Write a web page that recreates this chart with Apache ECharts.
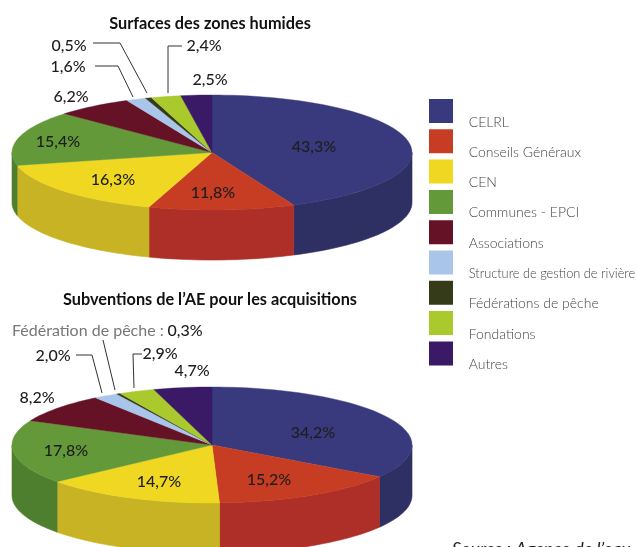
<!DOCTYPE html>
<html><head><meta charset="utf-8">
<style>html,body{margin:0;padding:0;background:#fff;overflow:hidden}#c{width:637px;height:547px}</style>
<script src="https://cdn.jsdelivr.net/npm/echarts@6/dist/echarts.min.js"></script>
</head><body><div id="c"></div>
<script>
const categories = ["CELRL","Conseils Généraux","CEN","Communes - EPCI","Associations","Structure de gestion de rivière","Fédérations de pêche","Fondations","Autres"];
const surfaces = [43.3,11.8,16.3,15.4,6.2,1.6,0.5,2.4,2.5];
const subventions = [34.2,15.2,14.7,17.8,8.2,2.0,0.3,2.9,4.7];
const topColors = ["#393a7d","#c63d23","#f0d822","#64993a","#661226","#a9c6ea","#353a18","#aac92c","#3a1a66"];
const sideColors = ["#2e2f63","#ad2f27","#c7b324","#4d7f2e","#4f0e1d","#8aa3c0","#2a2e12","#88a023","#2e1452"];
const titles = ["Surfaces des zones humides","Subventions de l’AE pour les acquisitions"];

// label layout (centres in px), separate from the data
const labelPos1 = [[314,147],[213,193],[113,180],[58,142],[71,97],[68,67],[69,46],[204,46],[210,80]];
const labelPos2 = [[313,433],[269,480],[159,482],[66,451],[37,398],[53,356],[185,331],[160,354],[192,371]];
const leaders = [
  [[93,43],[120,43],[147,93]],
  [[95,66],[118,66],[133,97]],
  [[182,46],[168,46],[168,93]],
  [[76,355],[92,355],[102,393]],
  [[103,340],[115,390]],
  [[142,354],[133,354],[134,388]]
];
const DEPTH = 0.87;

const fmt = v => v.toFixed(1).replace('.',',') + '%';
function slices(vals){
  const total = vals.reduce((a,b)=>a+b,0);
  let c = 0;
  return vals.map((v,i)=>{ const s=c/total; c+=v; return {name:categories[i], value:[s,c/total,i]}; });
}
function arc(s,e){
  const n = Math.max(2, Math.ceil((e-s)*180)), pts=[];
  for(let k=0;k<=n;k++){ const a=2*Math.PI*(s+(e-s)*k/n); pts.push([Math.sin(a),Math.cos(a)]); }
  return pts;
}
function renderSlice(params, api){
  const s=api.value(0), e=api.value(1), i=api.value(2), kids=[];
  const ws=Math.max(s,0.25), we=Math.min(e,0.75);
  if(we>ws){
    const a=arc(ws,we);
    const pts=a.map(p=>api.coord(p)).concat(a.slice().reverse().map(p=>api.coord([p[0],p[1]-DEPTH])));
    kids.push({type:'polygon',shape:{points:pts},style:{fill:sideColors[i],stroke:sideColors[i],lineWidth:0.6}});
  }
  const top=[api.coord([0,0])].concat(arc(s,e).map(p=>api.coord(p)));
  kids.push({type:'polygon',shape:{points:top},style:{fill:topColors[i],stroke:topColors[i],lineWidth:0.4}});
  return {type:'group',children:kids};
}
const hiddenAxis = idx => ({type:'value',min:-1,max:1,show:false,gridIndex:idx});

const pieSeries = [surfaces,subventions].map((vals,idx)=>({
  type:'custom', name:'pie'+idx, xAxisIndex:idx, yAxisIndex:idx, clip:false, silent:true,
  renderItem:renderSlice, data:slices(vals), encode:{x:0,y:1}
}));
const legendSeries = categories.map((n,i)=>({
  type:'custom', name:n, coordinateSystem:'none', data:[], renderItem:()=>null, itemStyle:{color:topColors[i]}
}));

const labelFont = {fontFamily:'Lato',fontSize:16,fontWeight:500,fill:'#1d1d1d',align:'center',verticalAlign:'middle'};
const graphics = [];
[[surfaces,labelPos1],[subventions,labelPos2]].forEach(([vals,pos])=>{
  vals.forEach((v,i)=>graphics.push({type:'text',x:pos[i][0],y:pos[i][1],z:20,style:{...labelFont,text:fmt(v)}}));
});
leaders.forEach(p=>graphics.push({type:'polyline',z:19,shape:{points:p},style:{stroke:'#333',lineWidth:1,fill:null}}));
graphics.push({type:'text',x:12,y:331,z:20,style:{text:'Fédération de pêche :',fontFamily:'Lato',fontSize:16,fill:'#777',align:'left',verticalAlign:'middle'}});
graphics.push({type:'text',x:452,y:549,z:20,style:{text:'Source : Agence de l’eau',fontFamily:'Lato',fontSize:18,fontStyle:'italic',fill:'#222',align:'left',verticalAlign:'middle'}});

const chart = echarts.init(document.getElementById('c'),null,{renderer:'canvas'});
chart.setOption({
  animation:false,
  backgroundColor:'#fff',
  title:[
    {text:titles[0],left:205,top:11,textAlign:'center',textStyle:{fontFamily:'Lato',fontSize:16.3,fontWeight:'bold',color:'#111'}},
    {text:titles[1],left:205,top:287,textAlign:'center',textStyle:{fontFamily:'Lato',fontSize:16.3,fontWeight:'bold',color:'#111'}}
  ],
  grid:[
    {left:12,width:400,top:95,height:115},
    {left:12,width:400,top:387,height:116}
  ],
  xAxis:[hiddenAxis(0),hiddenAxis(1)],
  yAxis:[hiddenAxis(0),hiddenAxis(1)],
  legend:{
    left:429, top:99, padding:0, orient:'vertical',
    icon:'path://M0,0H24V24H0Z M0,46H24V46H0Z',
    itemWidth:24, itemHeight:46, itemGap:-15.7, selectedMode:false,
    data:categories.map(n=>n.length>25?{name:n,textStyle:{fontSize:12.8}}:{name:n}),
    textStyle:{fontFamily:'Lato',fontSize:14,fontWeight:300,color:'#444',padding:[0,0,0,10.7]}
  },
  series:pieSeries.concat(legendSeries),
  graphic:graphics
});
</script></body></html>
